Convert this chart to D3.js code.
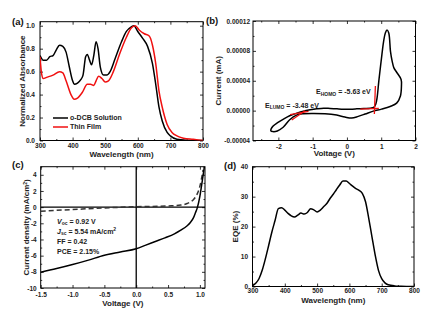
<!DOCTYPE html>
<html>
<head>
<meta charset="utf-8">
<script src="https://cdn.jsdelivr.net/npm/d3@7"></script>
<style>
  body { margin: 0; background: #fff; }
  svg { display: block; font-family: "Liberation Sans", Arial, sans-serif; font-weight: bold; }
  .tick text { font-size: 6.5px; font-weight: bold; fill: #222; }
  .tick line { stroke: #000; stroke-width: 0.8; }
  .title { font-size: 8px; fill: #222; }
  .plabel { font-size: 9.5px; fill: #111; }
  .note { font-size: 7px; fill: #222; }
</style>
</head>
<body>
<svg width="437" height="316"></svg>
<script>
// (a) normalized absorbance
var wlSol = [300,310,320,330,340,350,360,370,380,390,400,405,415,425,432,440,445,452,458,465,472,478,485,495,505,515,530,550,565,580,588,600,615,630,645,655,665,675,690,700,720,750,800];
var absSol = [0.74,0.70,0.70,0.73,0.74,0.79,0.83,0.82,0.77,0.64,0.52,0.49,0.50,0.53,0.57,0.73,0.75,0.70,0.66,0.74,0.86,0.80,0.64,0.57,0.57,0.60,0.71,0.86,0.95,0.99,1.0,0.95,0.89,0.82,0.67,0.49,0.29,0.17,0.07,0.04,0.01,0.003,0];
var wlFilm = [300,305,310,320,340,360,370,380,395,405,415,430,445,455,465,472,480,490,500,510,525,545,565,580,592,605,620,635,645,655,665,675,690,705,720,740,770,800];
var absFilm = [0.73,0.58,0.54,0.55,0.57,0.60,0.59,0.52,0.40,0.36,0.37,0.42,0.49,0.49,0.48,0.52,0.56,0.54,0.51,0.52,0.60,0.76,0.90,0.98,1.0,0.96,0.93,0.91,0.83,0.67,0.43,0.29,0.14,0.07,0.04,0.02,0.01,0];
var legendA = ["o-DCB Solution", "Thin Film"];

// (b) cyclic voltammetry loop
var cvV = [-2.22,-2.16,-2.01,-1.85,-1.67,-1.46,-1.27,-1.07,-0.88,-0.68,-0.49,-0.29,-0.10,0.10,0.29,0.49,0.68,0.78,0.84,0.88,0.93,0.98,1.02,1.07,1.12,1.17,1.22,1.27,1.32,1.37,1.46,1.58,1.59,1.56,1.45,1.26,1.01,0.77,0.53,0.33,0.14,-0.06,-0.30,-0.64,-0.99,-1.28,-1.47,-1.67,-1.86,-2.03,-2.16];
var cvI = [-2.68,-2.10,-1.57,-1.13,-0.69,-0.33,-0.07,0.11,0.24,0.33,0.29,0.24,0.20,0.20,0.24,0.29,0.33,0.42,0.86,1.75,3.96,5.95,7.50,9.27,10.4,10.8,10.4,7.94,6.6,5.73,5.07,4.18,3.3,1.97,1.0,0.55,0.2,-0.07,-0.46,-0.77,-1.0,-0.86,-0.6,-0.42,-0.38,-0.42,-0.6,-1.22,-2.23,-2.72,-2.81];
var lumoLines = [[[-1.66,-0.55],[-1.12,-0.11]], [[-1.61,-1.26],[-1.22,-0.02]]];
var homoLines = [[[0.83,3.3],[0.80,-0.46]], [[0.39,0.2],[0.93,0.29]]];

// (c) J-V curves
var jvV = [-1.5,-1.25,-1.0,-0.75,-0.5,-0.25,0,0.15,0.3,0.45,0.6,0.7,0.8,0.85,0.9,0.93,0.96,1.0,1.04,1.07];
var jvLight = [-8.05,-7.6,-7.1,-6.55,-5.95,-5.55,-5.15,-4.7,-4.25,-3.8,-3.3,-2.85,-2.3,-1.9,-1.3,-0.7,-0.06,1.36,3.4,5.0];
var jvDarkV = [-1.5,-1.0,-0.5,0,0.5,0.7,0.8,0.9,0.95,1.0,1.05];
var jvDark = [-0.5,-0.3,-0.1,0.05,0.15,0.25,0.45,0.95,1.5,2.6,4.6];
var jvNotes = ["V|oc| = 0.92 V", "J|sc| = 5.54 mA/cm|2", "FF = 0.42", "PCE = 2.15%"];

// (d) EQE
var eqeWl = [300,310,320,330,340,350,360,370,380,390,400,410,420,430,440,450,460,470,480,490,500,510,520,530,540,550,560,570,580,590,600,610,620,630,640,650,660,670,680,690,700,710,720,740,760,800];
var eqe = [0.3,1.1,2.6,5.4,9.3,13.7,18.2,22.1,26.0,26.3,25.5,24.4,23.6,23.2,23.8,24.5,24.2,24.7,26.0,25.6,24.9,25.5,26.6,27.7,29.4,30.8,32.4,33.9,35.2,35.2,34.4,33.5,32.7,32.1,31.1,28.3,22.7,16.5,10.4,5.4,2.6,1.2,0.56,0.2,0.1,0];

var svg = d3.select("svg");
var fix = function (f) { return function (d) { return f(d).replace("\u2212", "-"); }; };

function panel(p) {
  var x = d3.scaleLinear().domain(p.xd).range([p.l, p.r]);
  var y = d3.scaleLinear().domain(p.yd).range([p.b, p.t]);
  var g = svg.append("g");
  var id = "clip" + p.name;
  svg.append("clipPath").attr("id", id).append("rect")
    .attr("x", p.l).attr("y", p.t).attr("width", p.r - p.l).attr("height", p.b - p.t);

  // major + minor ticks on all four sides, pointing inward
  function ticks(axis, vals, size, fmt, tr, pad) {
    g.append("g").attr("transform", tr)
      .call(axis.tickValues(vals).tickSizeInner(-size).tickSizeOuter(0).tickPadding(pad).tickFormat(fmt))
      .call(function (s) { s.select(".domain").remove(); });
  }
  var blank = function () { return ""; };
  ticks(d3.axisBottom(x), p.xt, 3, fix(p.xf), "translate(0," + p.b + ")", p.xpad);
  ticks(d3.axisBottom(x), p.xm, 1.5, blank, "translate(0," + p.b + ")", 0);
  ticks(d3.axisTop(x), p.xt, 3, blank, "translate(0," + p.t + ")", 0);
  ticks(d3.axisTop(x), p.xm, 1.5, blank, "translate(0," + p.t + ")", 0);
  ticks(d3.axisLeft(y), p.yt, 3, fix(p.yf), "translate(" + p.l + ",0)", p.ypad);
  ticks(d3.axisLeft(y), p.ym, 1.5, blank, "translate(" + p.l + ",0)", 0);
  ticks(d3.axisRight(y), p.yt, 3, blank, "translate(" + p.r + ",0)", 0);
  ticks(d3.axisRight(y), p.ym, 1.5, blank, "translate(" + p.r + ",0)", 0);

  g.append("rect").attr("x", p.l).attr("y", p.t).attr("width", p.r - p.l).attr("height", p.b - p.t)
    .attr("fill", "none").attr("stroke", "#000").attr("stroke-width", 1);

  g.append("text").attr("class", "title").attr("text-anchor", "middle")
    .attr("x", (p.l + p.r) / 2).attr("y", p.xty).text(p.xtitle);
  var yt = g.append("text").attr("class", "title").attr("text-anchor", "middle")
    .attr("transform", "translate(" + p.ytx + "," + (p.t + p.b) / 2 + ") rotate(-90)");
  p.ytitle(yt);
  g.append("text").attr("class", "plabel").attr("x", p.px).attr("y", p.py).text(p.label);

  var plot = svg.append("g").attr("clip-path", "url(#" + id + ")");
  return { x: x, y: y, g: g, plot: plot };
}

function drawLine(pn, xs, ys, color, curve, dash) {
  var line = d3.line()
    .x(function (d, i) { return pn.x(xs[i]); })
    .y(function (d) { return pn.y(d); })
    .curve(curve || d3.curveMonotoneX);
  pn.plot.append("path").datum(ys).attr("d", line)
    .attr("fill", "none").attr("stroke", color).attr("stroke-width", 1.5)
    .attr("stroke-linejoin", "round")
    .attr("stroke-dasharray", dash || null);
}

// ---- (a)
var pa = panel({
  name: "a", l: 40, r: 203, t: 21.7, b: 140.5,
  xd: [300, 800], yd: [0, 1.035],
  xt: d3.range(300, 801, 100), xm: d3.range(350, 800, 100),
  yt: d3.range(0, 1.01, 0.2), ym: d3.range(0.1, 1.0, 0.2),
  xf: d3.format("d"), yf: d3.format(".1f"), xpad: 3.2, ypad: 5,
  xtitle: "Wavelength (nm)", xty: 156.5, ytx: 25,
  ytitle: function (t) { t.text("Normalized Absorbance"); },
  label: "(a)", px: 12, py: 25
});
drawLine(pa, wlSol, absSol, "#000");
drawLine(pa, wlFilm, absFilm, "#f01010");
[["#000", 118], ["#f01010", 127]].forEach(function (c, i) {
  pa.g.append("line").attr("x1", 53).attr("x2", 68).attr("y1", c[1]).attr("y2", c[1])
    .attr("stroke", c[0]).attr("stroke-width", 1.5);
  pa.g.append("text").attr("class", "note").attr("x", 70).attr("y", c[1] + 2.4).text(legendA[i]);
});

// ---- (b)
var pb = panel({
  name: "b", l: 253, r: 415.5, t: 21, b: 140.5,
  xd: [-2.74, 2], yd: [-4e-5, 12e-5],
  xt: d3.range(-2, 2.01, 1), xm: [-2.5, -1.5, -0.5, 0.5, 1.5],
  yt: d3.range(-4e-5, 12.1e-5, 4e-5), ym: d3.range(-2e-5, 11e-5, 4e-5),
  xf: d3.format("d"), yf: d3.format(".5f"), xpad: 3.8, ypad: 3,
  xtitle: "Voltage (V)", xty: 155.5, ytx: 221,
  ytitle: function (t) { t.text("Current (mA)"); },
  label: "(b)", px: 206, py: 24
});
var cvLine = d3.line()
  .x(function (d, i) { return pb.x(cvV[i]); })
  .y(function (d) { return pb.y(d * 1e-5); })
  .curve(d3.curveCatmullRomClosed);
pb.plot.append("path").datum(cvI).attr("d", cvLine)
  .attr("fill", "none").attr("stroke", "#000").attr("stroke-width", 1.5);
lumoLines.concat(homoLines).forEach(function (seg) {
  pb.plot.append("line")
    .attr("x1", pb.x(seg[0][0])).attr("y1", pb.y(seg[0][1] * 1e-5))
    .attr("x2", pb.x(seg[1][0])).attr("y2", pb.y(seg[1][1] * 1e-5))
    .attr("stroke", "#f01010").attr("stroke-width", 1.3);
});
function eLabel(x, y, sub, rest) {
  var t = pb.g.append("text").attr("class", "note").attr("x", x).attr("y", y);
  t.append("tspan").text("E");
  t.append("tspan").attr("dy", 1.8).attr("font-size", "5px").text(sub);
  t.append("tspan").attr("dy", -1.8).text(rest);
}
eLabel(316, 94, "HOMO", " = -5.63 eV");
eLabel(265, 107.5, "LUMO", " = -3.48 eV");

// ---- (c)
var pc = panel({
  name: "c", l: 40.7, r: 205, t: 166.7, b: 288,
  xd: [-1.5, 1.08], yd: [-10, 5],
  xt: d3.range(-1.5, 1.01, 0.5), xm: d3.range(-1.25, 1.1, 0.5),
  yt: d3.range(-10, 4.1, 2), ym: d3.range(-9, 5.1, 2),
  xf: d3.format(".1f"), yf: d3.format("d"), xpad: 4.2, ypad: 4,
  xtitle: "Voltage (V)", xty: 306, ytx: 29,
  ytitle: function (t) {
    t.text("Current density (mA/cm");
    t.append("tspan").attr("dy", -2.5).attr("font-size", "5px").text("2");
    t.append("tspan").attr("dy", 2.5).text(")");
  },
  label: "(c)", px: 12, py: 168
});
pc.plot.append("line").attr("x1", pc.x(-1.5)).attr("x2", pc.x(1.08))
  .attr("y1", pc.y(0)).attr("y2", pc.y(0)).attr("stroke", "#000").attr("stroke-width", 1.3);
pc.plot.append("line").attr("x1", pc.x(0)).attr("x2", pc.x(0))
  .attr("y1", pc.y(-10)).attr("y2", pc.y(5)).attr("stroke", "#000").attr("stroke-width", 1.3);
drawLine(pc, jvDarkV, jvDark, "#333", d3.curveMonotoneX, "5,3");
drawLine(pc, jvV, jvLight, "#000");
jvNotes.forEach(function (s, i) {
  var parts = s.split("|");
  var t = pc.g.append("text").attr("class", "note").attr("x", 57).attr("y", 223.5 + i * 10);
  if (parts.length === 1) { t.text(s); return; }
  t.append("tspan").attr("font-style", "italic").text(parts[0]);
  t.append("tspan").attr("dy", 1.8).attr("font-size", "5px").text(parts[1]);
  t.append("tspan").attr("dy", -1.8).text(parts[2]);
  if (parts.length > 3) t.append("tspan").attr("dy", -2.5).attr("font-size", "5px").text(parts[3]);
});

// ---- (d)
var pd = panel({
  name: "d", l: 252.5, r: 414, t: 166.7, b: 286.5,
  xd: [300, 800], yd: [0, 40],
  xt: d3.range(300, 801, 100), xm: d3.range(350, 800, 100),
  yt: d3.range(0, 40.1, 10), ym: d3.range(5, 40, 10),
  xf: d3.format("d"), yf: d3.format("d"), xpad: 2, ypad: 4.5,
  xtitle: "Wavelength (nm)", xty: 302.5, ytx: 238,
  ytitle: function (t) { t.text("EQE (%)"); },
  label: "(d)", px: 224, py: 168.5
});
drawLine(pd, eqeWl, eqe, "#000");
</script>
</body>
</html>
